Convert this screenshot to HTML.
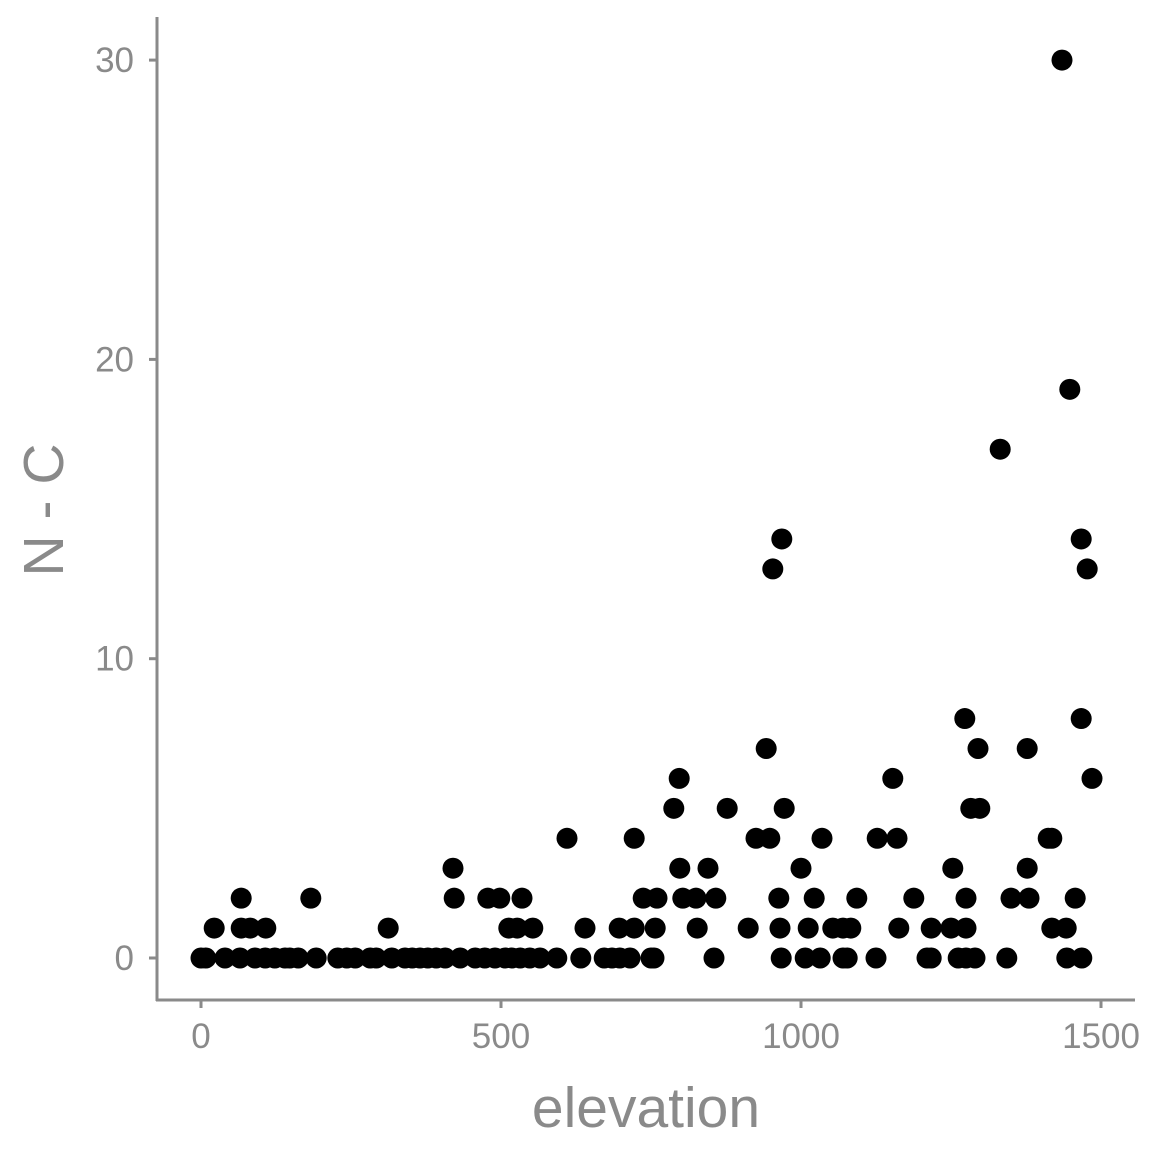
<!DOCTYPE html>
<html><head><meta charset="utf-8"><style>
html,body{margin:0;padding:0;background:#fff;width:1152px;height:1152px;overflow:hidden}
svg text{font-family:"Liberation Sans",sans-serif;fill:#8a8a8a}
</style></head><body>
<svg id="chart" width="1152" height="1152" viewBox="0 0 1152 1152">
<g id="axes"></g><g id="points"></g>
</svg>
<script>
const ys0=[0,8,40,65,90,107,123,140,148,162,192,228,243,257,282,292,318,340,352,365,378,392,407,432,457,473,490,507,518,532,548,565,593,633,672,685,698,715,750,755,855,967,1007,1032,1070,1077,1125,1210,1217,1262,1275,1290,1343,1443,1468];
const ys1=[22,67,82,108,312,513,527,553,640,697,722,757,827,912,965,1012,1053,1070,1083,1163,1217,1250,1275,1418,1442];
const ys2=[67,183,422,478,498,535,737,760,803,825,858,963,1022,1093,1188,1275,1350,1380,1457];
const ys3=[420,798,845,1000,1253,1377];
const ys4=[610,722,925,948,1035,1127,1160,1412,1418];
const ys5=[788,877,972,1283,1298];
const ys6=[797,1153,1485];
const ys7=[942,1295,1377];
const ys8=[1273,1467];
const ysHigh=[[953,13],[1477,13],[968,14],[1467,14],[1332,17],[1448,19],[1435,30]];
const xTicks=[0,500,1000,1500];
const yTicks=[0,10,20,30];
const xs=v=>201+v*0.6;
const yv=v=>958-v*29.93;
const NS='http://www.w3.org/2000/svg';
function mk(tag,attrs,parent,txt){const e=document.createElementNS(NS,tag);for(const k in attrs)e.setAttribute(k,attrs[k]);if(txt!==undefined)e.textContent=txt;parent.appendChild(e);return e;}
const ax=document.getElementById('axes');
let l=mk('line',{x1:157,y1:17,x2:157,y2:1001,stroke:'#8a8a8a','stroke-width':3},ax);


l=mk('line',{x1:156,y1:1000,x2:1135,y2:1000,stroke:'#8a8a8a','stroke-width':3},ax);


xTicks.forEach(t=>{
  const tk=mk('line',{x1:xs(t),y1:1000,x2:xs(t),y2:1008,stroke:'#8a8a8a','stroke-width':3},ax);
  
  
  const tx=mk('text',{x:xs(t),y:1048,'text-anchor':'middle','font-size':35},ax,String(t));
  
  
});
yTicks.forEach(t=>{
  const tk=mk('line',{x1:149,y1:yv(t),x2:157,y2:yv(t),stroke:'#8a8a8a','stroke-width':3},ax);
  
  
  const tx=mk('text',{x:134,y:yv(t)+12,'text-anchor':'end','font-size':35},ax,String(t));
  
  
});
let tt=mk('text',{x:646,y:1127,'text-anchor':'middle','font-size':57},ax,'elevation');


tt=mk('text',{x:0,y:0,'text-anchor':'middle','font-size':57,transform:'translate(63,510) rotate(-90)'},ax,'N - C');


const pts=document.getElementById('points');
const rows=[ys0,ys1,ys2,ys3,ys4,ys5,ys6,ys7,ys8];
function dot(e,v){
  const c=mk('circle',{cx:xs(e),cy:yv(v),r:10.5,fill:'#000'},pts);
  
  
}
rows.forEach((r,v)=>r.forEach(e=>dot(e,v)));
ysHigh.forEach(p=>dot(p[0],p[1]));
</script>
</body></html>
